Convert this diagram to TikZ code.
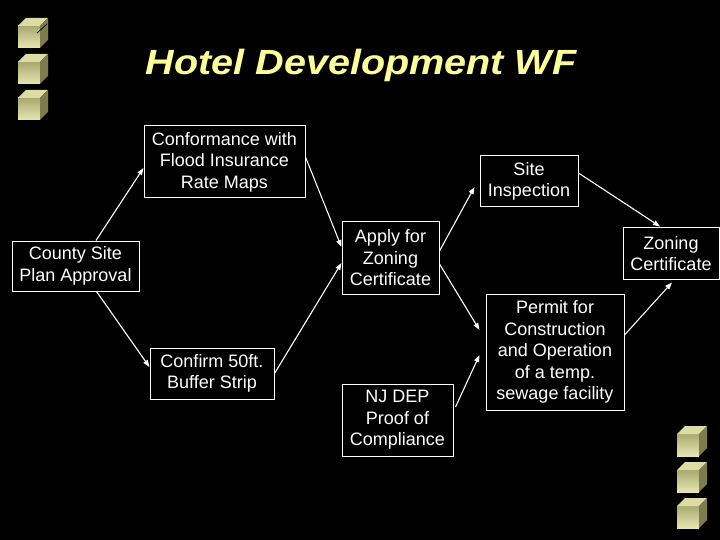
\documentclass[tikz,border=0pt]{standalone}
\usepackage{fontspec}
\setmainfont{Liberation Sans}
\usetikzlibrary{arrows.meta,calc}
\definecolor{titleyellow}{HTML}{FFFF99}
\definecolor{cubetop}{HTML}{DCDCA4}
\definecolor{cubefrontA}{HTML}{A8A870}
\definecolor{cubefrontB}{HTML}{E6E6B2}
\definecolor{cubeside}{HTML}{7C7C4C}
\newcommand\drawcube[2]{%
  \begin{scope}[shift={(#1,#2)}]
    \shade[top color=cubefrontA, bottom color=cubefrontB] (0,8) rectangle (22,30);
    \fill[cubetop] (0,8) -- (8,0) -- (30,0) -- (22,8) -- cycle;
    \fill[cubeside] (22,8) -- (30,0) -- (30,22) -- (22,30) -- cycle;
  \end{scope}}
\begin{document}
\begin{tikzpicture}[x=1pt,y=-1pt,
  box/.style={draw=white, line width=1pt, text=white, align=center, inner sep=0pt,
    font=\fontsize{18}{21.5}\selectfont},
  conn/.style={draw=white, line width=1.1pt, -{Triangle[length=7pt,width=5pt]}}]
\fill[black] (0,0) rectangle (720,540);
\useasboundingbox (0,0) rectangle (720,540);
% cubes
\drawcube{18}{18}
\drawcube{18}{54}
\drawcube{18}{90}
\draw[black, line width=0.8pt] (37,33) -- (47,24);
\drawcube{677}{426}
\drawcube{677}{462}
\drawcube{677}{498}
% title
\node[anchor=base, text=titleyellow, inner sep=0pt,
  font=\fontsize{35}{40}\selectfont\bfseries\itshape] (title) at (361,75)
  {\scalebox{1.13}[1]{Hotel Development WF}};
% nodes
\node[box, minimum width=161pt, minimum height=72pt] (conf) at (224.5,162)
  {Conformance with\\Flood Insurance\\Rate Maps};
\node[box, minimum width=127pt, minimum height=50pt] (county) at (75.5,266)
  {County Site\\Plan Approval};
\node[box, minimum width=97pt, minimum height=72pt] (apply) at (390.5,258)
  {Apply for\\Zoning\\Certificate};
\node[box, minimum width=98pt, minimum height=51pt] (site) at (529,181.5)
  {Site\\Inspection};
\node[box, minimum width=96pt, minimum height=51pt] (zoning) at (671,253.5)
  {Zoning\\Certificate};
\node[box, minimum width=124pt, minimum height=51pt] (confirm) at (212,373.5)
  {Confirm 50ft.\\Buffer Strip};
\node[box, minimum width=111pt, minimum height=72pt] (njdep) at (397.5,420)
  {NJ DEP\\Proof of\\Compliance};
\node[box, minimum width=138pt, minimum height=116pt] (permit) at (555,352)
  {Permit for\\Construction\\and Operation\\of a temp.\\sewage facility};
% connectors
\draw[conn] ([xshift=20.5pt]county.north) -- ([yshift=-6pt]conf.west);
\draw[conn] ([yshift=5pt]conf.east) -- ([yshift=11pt]apply.west);
\draw[conn] ([xshift=21pt]county.south) -- ([yshift=6.5pt]confirm.west);
\draw[conn] (confirm.east) -- ([yshift=-5pt]apply.west);
\draw[conn] ([yshift=7pt]apply.east) -- ([xshift=-5pt,yshift=-5.5pt]site.west);
\draw[conn] ([yshift=8.5pt]site.east) -- ([xshift=-11pt,yshift=1pt]zoning.north);
\draw[conn] ([yshift=-6pt]apply.east) -- ([xshift=-6pt,yshift=22pt]permit.west);
\draw[conn] ([xshift=2pt,yshift=13pt]njdep.east) -- ([xshift=-6pt,yshift=-3pt]permit.west);
\draw[conn] ([yshift=17pt]permit.east) -- ([xshift=1pt,yshift=-3pt]zoning.south);
\end{tikzpicture}
\end{document}
